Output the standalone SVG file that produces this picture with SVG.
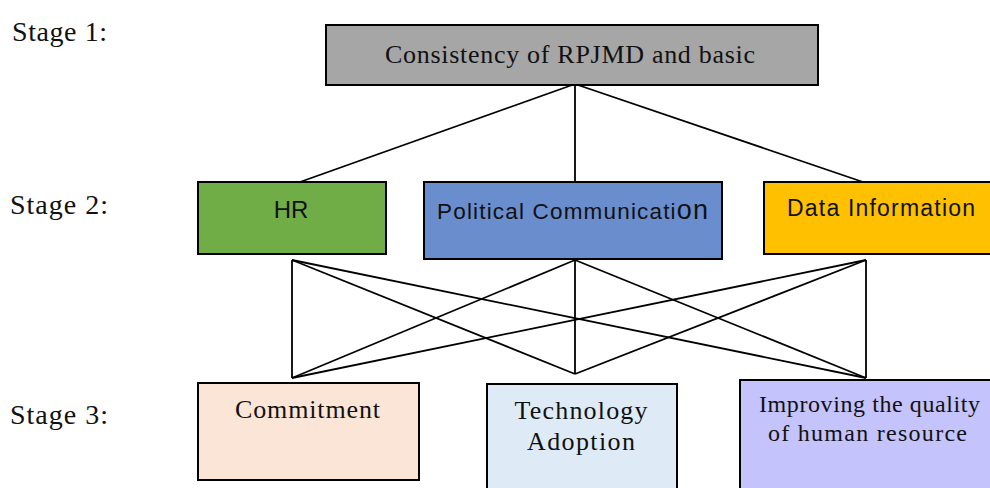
<svg xmlns="http://www.w3.org/2000/svg" width="990" height="488" viewBox="0 0 990 488">
  <style>
    .box { stroke: #000; stroke-width: 2; }
    .link { stroke: #000; stroke-width: 1.8; fill: none; }
    .serif { font-family: "Liberation Serif", "Times New Roman", serif; fill: #111; }
    .sans { font-family: "Liberation Sans", Arial, sans-serif; fill: #111; }
    .stage { font-family: "Liberation Serif", "Times New Roman", serif; font-size: 28px; fill: #111; }
  </style>
  <rect width="990" height="488" fill="#fff"/>

  <!-- stage labels -->
  <g id="stage-labels">
    <text class="stage" x="12" y="41" textLength="95">Stage 1:</text>
    <text class="stage" x="10" y="214" textLength="98">Stage 2:</text>
    <text class="stage" x="10" y="424" textLength="98">Stage 3:</text>
  </g>

  <!-- connectors -->
  <g id="connectors">
    <!-- stage 1 to stage 2 -->
    <line class="link" x1="575" y1="84" x2="300" y2="182"/>
    <line class="link" x1="575" y1="84" x2="575" y2="182"/>
    <line class="link" x1="575" y1="84" x2="863" y2="182"/>
    <!-- stage 2 to stage 3 -->
    <line class="link" x1="292" y1="260" x2="292" y2="378"/>
    <line class="link" x1="292" y1="260" x2="575" y2="374"/>
    <line class="link" x1="292" y1="260" x2="866" y2="378"/>
    <line class="link" x1="575" y1="260" x2="292" y2="378"/>
    <line class="link" x1="575" y1="260" x2="575" y2="374"/>
    <line class="link" x1="575" y1="260" x2="866" y2="378"/>
    <line class="link" x1="866" y1="260" x2="292" y2="378"/>
    <line class="link" x1="866" y1="260" x2="575" y2="374"/>
    <line class="link" x1="866" y1="260" x2="866" y2="378"/>
  </g>

  <g id="consistency">
    <rect class="box" x="326" y="25" width="492" height="60" fill="#a6a6a6"/>
    <text class="serif" x="570" y="63" font-size="26" text-anchor="middle" textLength="370">Consistency of RPJMD and basic</text>
  </g>

  <g id="hr">
    <rect class="box" x="198" y="182" width="188" height="72" fill="#70ad47"/>
    <text class="sans" x="291" y="218" font-size="24" text-anchor="middle">HR</text>
  </g>

  <g id="political-communication">
    <rect class="box" x="424" y="182" width="298" height="77" fill="#6a8dcd"/>
    <text class="sans" x="437" y="219" font-size="22.5" textLength="271">Political Communicati<tspan font-size="27">on</tspan></text>
  </g>

  <g id="data-information">
    <rect class="box" x="764" y="182" width="230" height="72" fill="#ffc000"/>
    <text class="sans" x="787" y="216" font-size="23" textLength="188">Data Information</text>
  </g>

  <g id="commitment">
    <rect class="box" x="198" y="383" width="221" height="97" fill="#fbe5d6"/>
    <text class="serif" x="235" y="418" font-size="26" textLength="145">Commitment</text>
  </g>

  <g id="technology-adoption">
    <rect class="box" x="487" y="384" width="190" height="110" fill="#deebf7"/>
    <text class="serif" x="581" y="419" font-size="26" text-anchor="middle" textLength="133">Technology</text>
    <text class="serif" x="581" y="450" font-size="26" text-anchor="middle" textLength="108">Adoption</text>
  </g>

  <g id="improving-quality">
    <rect class="box" x="740" y="380" width="254" height="114" fill="#c5c3fc"/>
    <text class="serif" x="759" y="412" font-size="24" textLength="221">Improving the quality</text>
    <text class="serif" x="768" y="441" font-size="24" textLength="199">of human resource</text>
  </g>
</svg>
